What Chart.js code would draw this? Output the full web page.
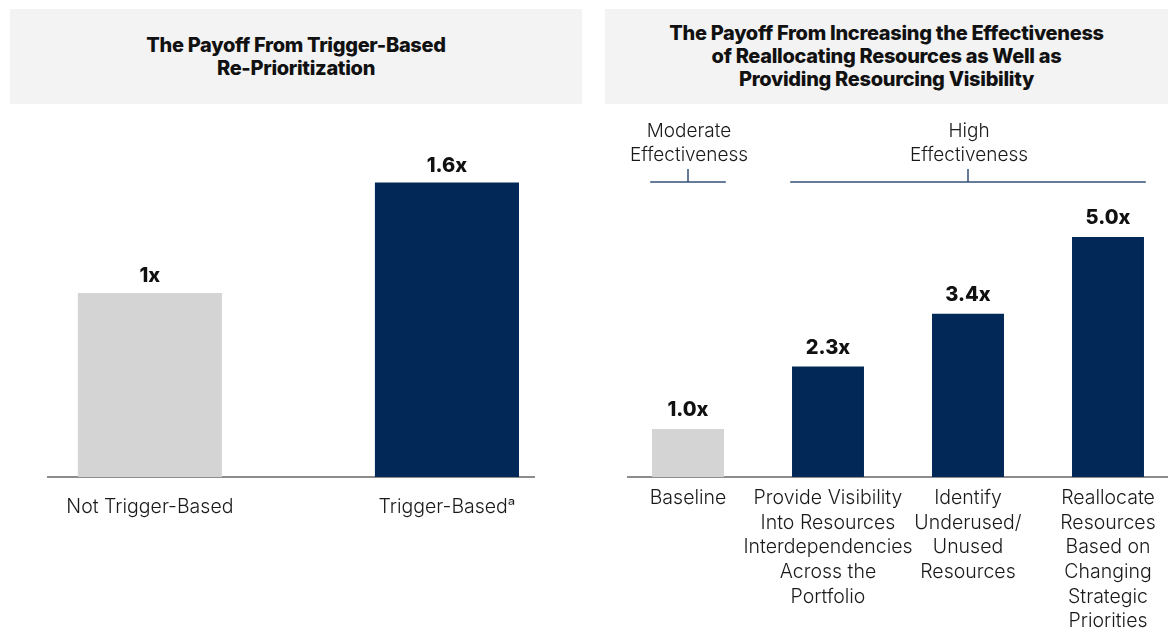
<!DOCTYPE html>
<html lang="en">
<head>
  <meta charset="UTF-8">
  <title>The Payoff From Re-Prioritization</title>
  <script src="https://cdn.jsdelivr.net/npm/chart.js"></script>
  <style>
    body {
      margin: 0;
      width: 1168px;
      height: 629px;
      overflow: hidden;
      background: #fff;
      position: relative;
      font-family: Inter, "Open Sans", sans-serif;
    }

    .head {
      position: absolute;
      top: 9px;
      height: 95px;
      background: #f3f3f3;
      display: flex;
      align-items: center;
      justify-content: center;
      text-align: center;
      font-weight: 800;
      font-size: 20px;
      line-height: 23px;
      letter-spacing: -0.3px;
      color: #111;
    }

    #headLeft { left: 10px; width: 572px; }
    #headRight { left: 605px; width: 563px; }

    .box {
      position: absolute;
      top: 104px;
      height: 525px;
    }

    #boxLeft { left: 0; width: 590px; }
    #boxRight { left: 600px; width: 568px; }
  </style>
</head>
<body>

  <div class="head" id="headLeft">The Payoff From Trigger-Based<br>Re-Prioritization</div>
  <div class="head" id="headRight">The Payoff From Increasing the Effectiveness<br>of Reallocating Resources as Well as<br>Providing Resourcing Visibility</div>

  <div class="box" id="boxLeft"><canvas id="leftChart"></canvas></div>
  <div class="box" id="boxRight"><canvas id="rightChart"></canvas></div>

  <script>
    // left panel
    const leftCategories = [['Not Trigger-Based'], ['Trigger-Based\u1d43']];
    const leftValues = [1, 1.6];

    // right panel
    const rightCategories = [
      ['Baseline'],
      ['Provide Visibility', 'Into Resources', 'Interdependencies', 'Across the', 'Portfolio'],
      ['Identify', 'Underused/', 'Unused', 'Resources'],
      ['Reallocate', 'Resources', 'Based on', 'Changing', 'Strategic', 'Priorities']
    ];
    const rightValues = [1.0, 2.3, 3.4, 5.0];

    // brackets over the right bars
    const groupLabels = [['Moderate', 'Effectiveness'], ['High', 'Effectiveness']];
    const groupFrom = [0, 1];
    const groupTo = [0, 3];

    const GRAY = '#d4d4d4';
    const NAVY = '#012856';
    const FONT = 'Inter, "Open Sans", sans-serif';

    // value text above each bar
    const valueTags = {
      id: 'valueTags',
      afterDatasetsDraw(chart, args, o) {
        const ctx = chart.ctx;
        const meta = chart.getDatasetMeta(0);
        const vals = chart.data.datasets[0].data;
        ctx.save();
        ctx.font = '800 20px ' + FONT;
        ctx.fillStyle = '#111';
        ctx.textAlign = 'center';
        ctx.textBaseline = 'alphabetic';
        meta.data.forEach((bar, i) => {
          const v = vals[i].y;
          const txt = (o.fixed ? v.toFixed(1) : String(v)) + 'x';
          ctx.fillText(txt, bar.x, bar.y - o.gap);
        });
        ctx.restore();
      }
    };

    const groupBrackets = {
      id: 'groupBrackets',
      afterDraw(chart) {
        const ctx = chart.ctx;
        const x = chart.scales.x;
        const lineY = 78;
        ctx.save();
        groupLabels.forEach((lines, g) => {
          const a = x.getPixelForValue(groupFrom[g] - 0.27);
          const b = x.getPixelForValue(groupTo[g] + 0.27);
          const mid = (a + b) / 2;
          ctx.strokeStyle = '#34507a';
          ctx.lineWidth = 1.5;
          ctx.beginPath();
          ctx.moveTo(a, lineY);
          ctx.lineTo(b, lineY);
          ctx.moveTo(mid, lineY);
          ctx.lineTo(mid, lineY - 13);
          ctx.stroke();

          ctx.font = '300 19px ' + FONT;
          ctx.fillStyle = '#1a1a1a';
          ctx.textAlign = 'center';
          ctx.textBaseline = 'middle';
          lines.forEach((t, k) => ctx.fillText(t, mid + 1, 27 + k * 24));
        });
        ctx.restore();
      }
    };

    function makeChart(id, cats, vals, opt, extra) {
      return new Chart(document.getElementById(id), {
        type: 'bar',
        data: {
          datasets: [{
            data: vals.map((v, i) => ({ x: i, y: v })),
            backgroundColor: c => c.dataIndex === 0 ? GRAY : NAVY,
            borderWidth: 0,
            categoryPercentage: 1,
            barPercentage: opt.bar
          }]
        },
        options: {
          responsive: true,
          maintainAspectRatio: false,
          animation: false,
          layout: { padding: opt.pad },
          plugins: {
            legend: { display: false },
            tooltip: { enabled: false },
            valueTags: { fixed: opt.fixed, gap: opt.gap }
          },
          scales: {
            x: {
              type: 'linear',
              offset: false,
              min: opt.xmin,
              max: opt.xmax,
              grid: { display: false },
              border: { display: true, color: '#8c8c8c', width: 2 },
              afterBuildTicks: s => { s.ticks = cats.map((_, i) => ({ value: i })); },
              afterFit: s => { s.height = 152; },
              ticks: {
                autoSkip: false,
                maxRotation: 0,
                minRotation: 0,
                padding: opt.tickPad,
                color: '#1a1a1a',
                font: { family: FONT, size: 19.5, weight: '300', lineHeight: 1.262 },
                callback: v => cats[v]
              }
            },
            y: { display: false, min: 0, max: opt.ymax }
          }
        },
        plugins: [valueTags].concat(extra || [])
      });
    }

    makeChart('leftChart', leftCategories, leftValues, {
      pad: { left: 48, right: 56, top: 5, bottom: 0 },
      xmin: -0.343, xmax: 1.293, bar: 0.485,
      ymax: 2, tickPad: 10, fixed: false, gap: 11
    });

    makeChart('rightChart', rightCategories, rightValues, {
      pad: { left: 28, right: 0, top: 13, bottom: 0 },
      xmin: -0.4286, xmax: 3.4286, bar: 0.514,
      ymax: 7.5, tickPad: 1, fixed: true, gap: 13
    }, [groupBrackets]);
  </script>
</body>
</html>
